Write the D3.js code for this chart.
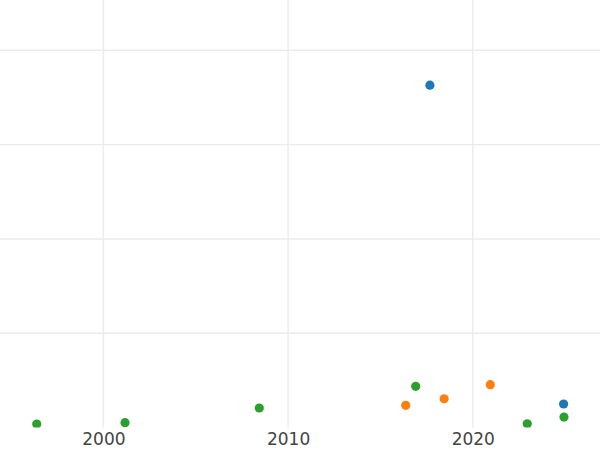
<!DOCTYPE html>
<html>
<head>
<meta charset="utf-8">
<script src="https://cdn.jsdelivr.net/npm/d3@7"></script>
<style>
  body { margin: 0; background: #fff; }
</style>
</head>
<body>
<script>
// series data (x = year, y = value)
let blueYears   = [2017.68, 2024.92];
let blueValues  = [36.3, 2.5];
let orangeYears  = [2016.37, 2018.45, 2020.95];
let orangeValues = [2.36, 3.06, 4.55];
let greenYears  = [1996.39, 2001.17, 2008.44, 2016.91, 2022.95, 2024.94];
let greenValues = [0.38, 0.52, 2.08, 4.38, 0.41, 1.12];

let xTicks = [2000, 2010, 2020];
let yTicks = [10, 20, 30, 40];

let series = [
    {color: "#1f77b4", years: blueYears, values: blueValues},
    {color: "#ff7f0e", years: orangeYears, values: orangeValues},
    {color: "#2ca02c", years: greenYears, values: greenValues}
];

let width = 600, height = 450;
let plotBottom = 427.6;

let canvas = d3.select("body")
            .append("svg")
            .attr("width", width)
            .attr("height", height);

let x = d3.scaleLinear()
        .domain([1994.40, 2026.89])
        .range([0, width]);

let y = d3.scaleLinear()
        .domain([0, 45.33])
        .range([plotBottom, 0]);

// grid
canvas.append("g")
    .selectAll("line")
    .data(xTicks)
    .join("line")
    .attr("x1", d => x(d))
    .attr("x2", d => x(d))
    .attr("y1", 0)
    .attr("y2", plotBottom)
    .attr("stroke", "#ebebeb")
    .attr("stroke-width", 1.4);

canvas.append("g")
    .selectAll("line")
    .data(yTicks)
    .join("line")
    .attr("x1", 0)
    .attr("x2", width)
    .attr("y1", d => y(d))
    .attr("y2", d => y(d))
    .attr("stroke", "#ebebeb")
    .attr("stroke-width", 1.4);

// clip the points to the plot area
canvas.append("clipPath")
    .attr("id", "plot")
    .append("rect")
    .attr("width", width)
    .attr("height", plotBottom);

let dots = canvas.append("g").attr("clip-path", "url(#plot)");

series.forEach(s => {
    dots.append("g")
        .selectAll("circle")
        .data(s.years.map((yr, i) => [yr, s.values[i]]))
        .join("circle")
        .attr("cx", d => x(d[0]))
        .attr("cy", d => y(d[1]))
        .attr("r", 4.6)
        .attr("fill", s.color);
});

// x axis labels
let xAxis = canvas.append("g")
    .attr("transform", `translate(0,${plotBottom})`)
    .call(d3.axisBottom(x).tickValues(xTicks).tickFormat(d3.format("d")).tickSize(0).tickPadding(5));

xAxis.select(".domain").remove();
xAxis.selectAll("text")
    .attr("font-family", "DejaVu Sans")
    .attr("font-size", 17)
    .attr("fill", "#444");
</script>
</body>
</html>
